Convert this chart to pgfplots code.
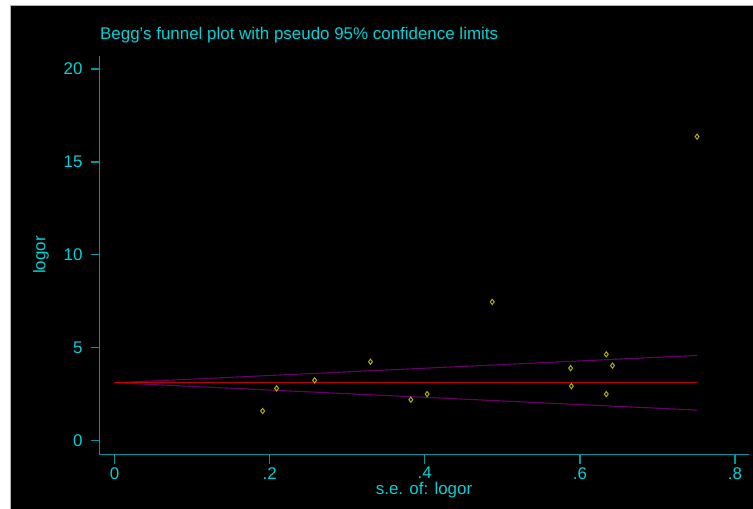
\documentclass[border=0pt]{standalone}
\usepackage{pgfplots}
\pgfplotsset{compat=1.18}
\usepackage{fontspec}
\setmainfont{Liberation Sans}
\definecolor{txtcyan}{RGB}{0,210,215}
\definecolor{axcyan}{RGB}{0,150,155}
\definecolor{mkyellow}{RGB}{175,175,0}
\definecolor{limpurple}{RGB}{105,0,105}
\definecolor{midred}{RGB}{190,0,0}
\begin{document}
\begin{tikzpicture}[x=1bp,y=1bp]
\useasboundingbox (0,0) rectangle (753,509);
\fill[white] (0,0) rectangle (753,509);
\fill[black] (10.5,0) rectangle (753,502.5);
\draw[gray!60, line width=1bp] (10,0) -- (10,503) -- (753,503);
\begin{axis}[
  at={(99.5bp,54.3bp)}, anchor=south west,
  scale only axis, width=649.5bp, height=398.7bp,
  xmin=-0.0193, xmax=0.818, ymin=-0.75, ymax=20.7,
  axis x line=bottom, axis y line=left,
  axis line style={-, draw=axcyan, line width=1.2bp},
  tick style={draw=axcyan, line width=1.2bp},
  tick align=outside, major tick length=9bp,
  xtick={0,0.2,0.4,0.6,0.8}, xticklabels={0,.2,.4,.6,.8},
  ytick={0,5,10,15,20}, yticklabels={0,5,10,15,20},
  ticklabel style={font=\fontsize{17}{20}\selectfont, text=txtcyan},
  yticklabel style={xshift=-4.5bp},
  /pgf/number format/assume math mode=true,
  clip=false,
]
\addplot[limpurple, line width=1.1bp] coordinates {(0,3.12) (0.751,4.59)};
\addplot[limpurple, line width=1.1bp] coordinates {(0,3.12) (0.751,1.65)};
\addplot[midred, line width=1.1bp] coordinates {(0,3.12) (0.751,3.12)};
\addplot[only marks, mark=diamond, mark size=2.6bp, mkyellow, mark options={line width=1bp}] coordinates {
(0.191,1.60) (0.209,2.82) (0.258,3.25) (0.330,4.25) (0.382,2.21) (0.403,2.51)
(0.487,7.47) (0.588,3.91) (0.589,2.94) (0.634,4.65) (0.642,4.04) (0.634,2.51)
(0.751,16.36)};
\end{axis}
\node[anchor=base west, inner sep=0, text=txtcyan, font=\fontsize{17}{20}\selectfont] at (100,469) {Begg's funnel plot with pseudo 95\% confidence limits};
\node[inner sep=0, text=txtcyan, font=\fontsize{17}{20}\selectfont] at (424,19) {s.e. of: logor};
\node[inner sep=0, text=txtcyan, rotate=90, font=\fontsize{17}{20}\selectfont] at (41,254) {logor};
\end{tikzpicture}
\end{document}
